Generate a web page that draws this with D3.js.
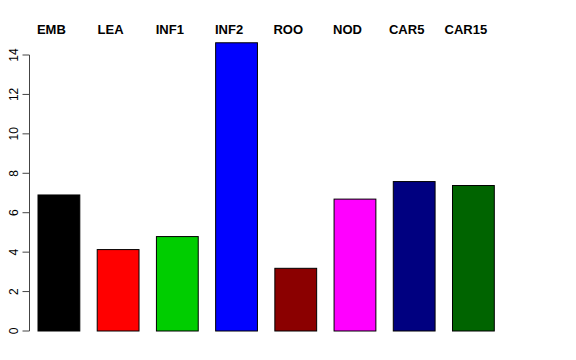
<!DOCTYPE html>
<html>
<head>
<meta charset="utf-8">
<script src="https://cdn.jsdelivr.net/npm/d3@7"></script>
<style>
  body { margin: 0; background: #fff; }
  svg { display: block; font-family: "Liberation Sans", Arial, sans-serif; }
</style>
</head>
<body>
<svg id="chart"></svg>
<script>
// data
const tissues = ["EMB", "LEA", "INF1", "INF2", "ROO", "NOD", "CAR5", "CAR15"];
const values = [6.90, 4.13, 4.79, 14.62, 3.18, 6.69, 7.58, 7.38];
const barColors = ["#000000", "#ff0000", "#00cd00", "#0000ff", "#8b0000", "#ff00ff", "#000080", "#006400"];
const yTicks = [0, 2, 4, 6, 8, 10, 12, 14];

const W = 576, H = 360;
const svg = d3.select("#chart").attr("width", W).attr("height", H);

// plot region
const plotLeft = 38, plotRight = 494.3, plotBottom = 331, plotTop = 55;

const x = d3.scaleBand()
  .domain(tissues)
  .range([plotLeft, plotRight])
  .paddingInner(0.294)
  .paddingOuter(0);

const y = d3.scaleLinear()
  .domain([0, 14])
  .range([plotBottom, plotTop]);

// bars
svg.selectAll("rect.bar")
  .data(tissues)
  .enter()
  .append("rect")
  .attr("class", "bar")
  .attr("x", d => x(d))
  .attr("y", (d, i) => y(values[i]))
  .attr("width", x.bandwidth())
  .attr("height", (d, i) => y(0) - y(values[i]))
  .attr("fill", (d, i) => barColors[i])
  .attr("stroke", "#000")
  .attr("stroke-width", 1);

// y axis, R style
const axis = svg.append("g").attr("transform", "translate(29.5,0)");
axis.append("line")
  .attr("y1", y(0)).attr("y2", y(14))
  .attr("stroke", "#444");
axis.selectAll("line.tick")
  .data(yTicks)
  .enter()
  .append("line")
  .attr("class", "tick")
  .attr("x1", 0).attr("x2", -7)
  .attr("y1", d => y(d)).attr("y2", d => y(d))
  .attr("stroke", "#444");
axis.selectAll("text")
  .data(yTicks)
  .enter()
  .append("text")
  .attr("transform", d => `translate(-12,${y(d)}) rotate(-90)`)
  .attr("text-anchor", "middle")
  .style("font-size", "12px")
  .text(d => d);

// labels along the top
svg.selectAll("text.lab")
  .data(tissues)
  .enter()
  .append("text")
  .attr("class", "lab")
  .attr("x", d => x(d) + x.bandwidth() / 2 - 7.5)
  .attr("y", 34)
  .attr("text-anchor", "middle")
  .style("font-size", "13px")
  .style("font-weight", "bold")
  .text(d => d);
</script>
</body>
</html>
